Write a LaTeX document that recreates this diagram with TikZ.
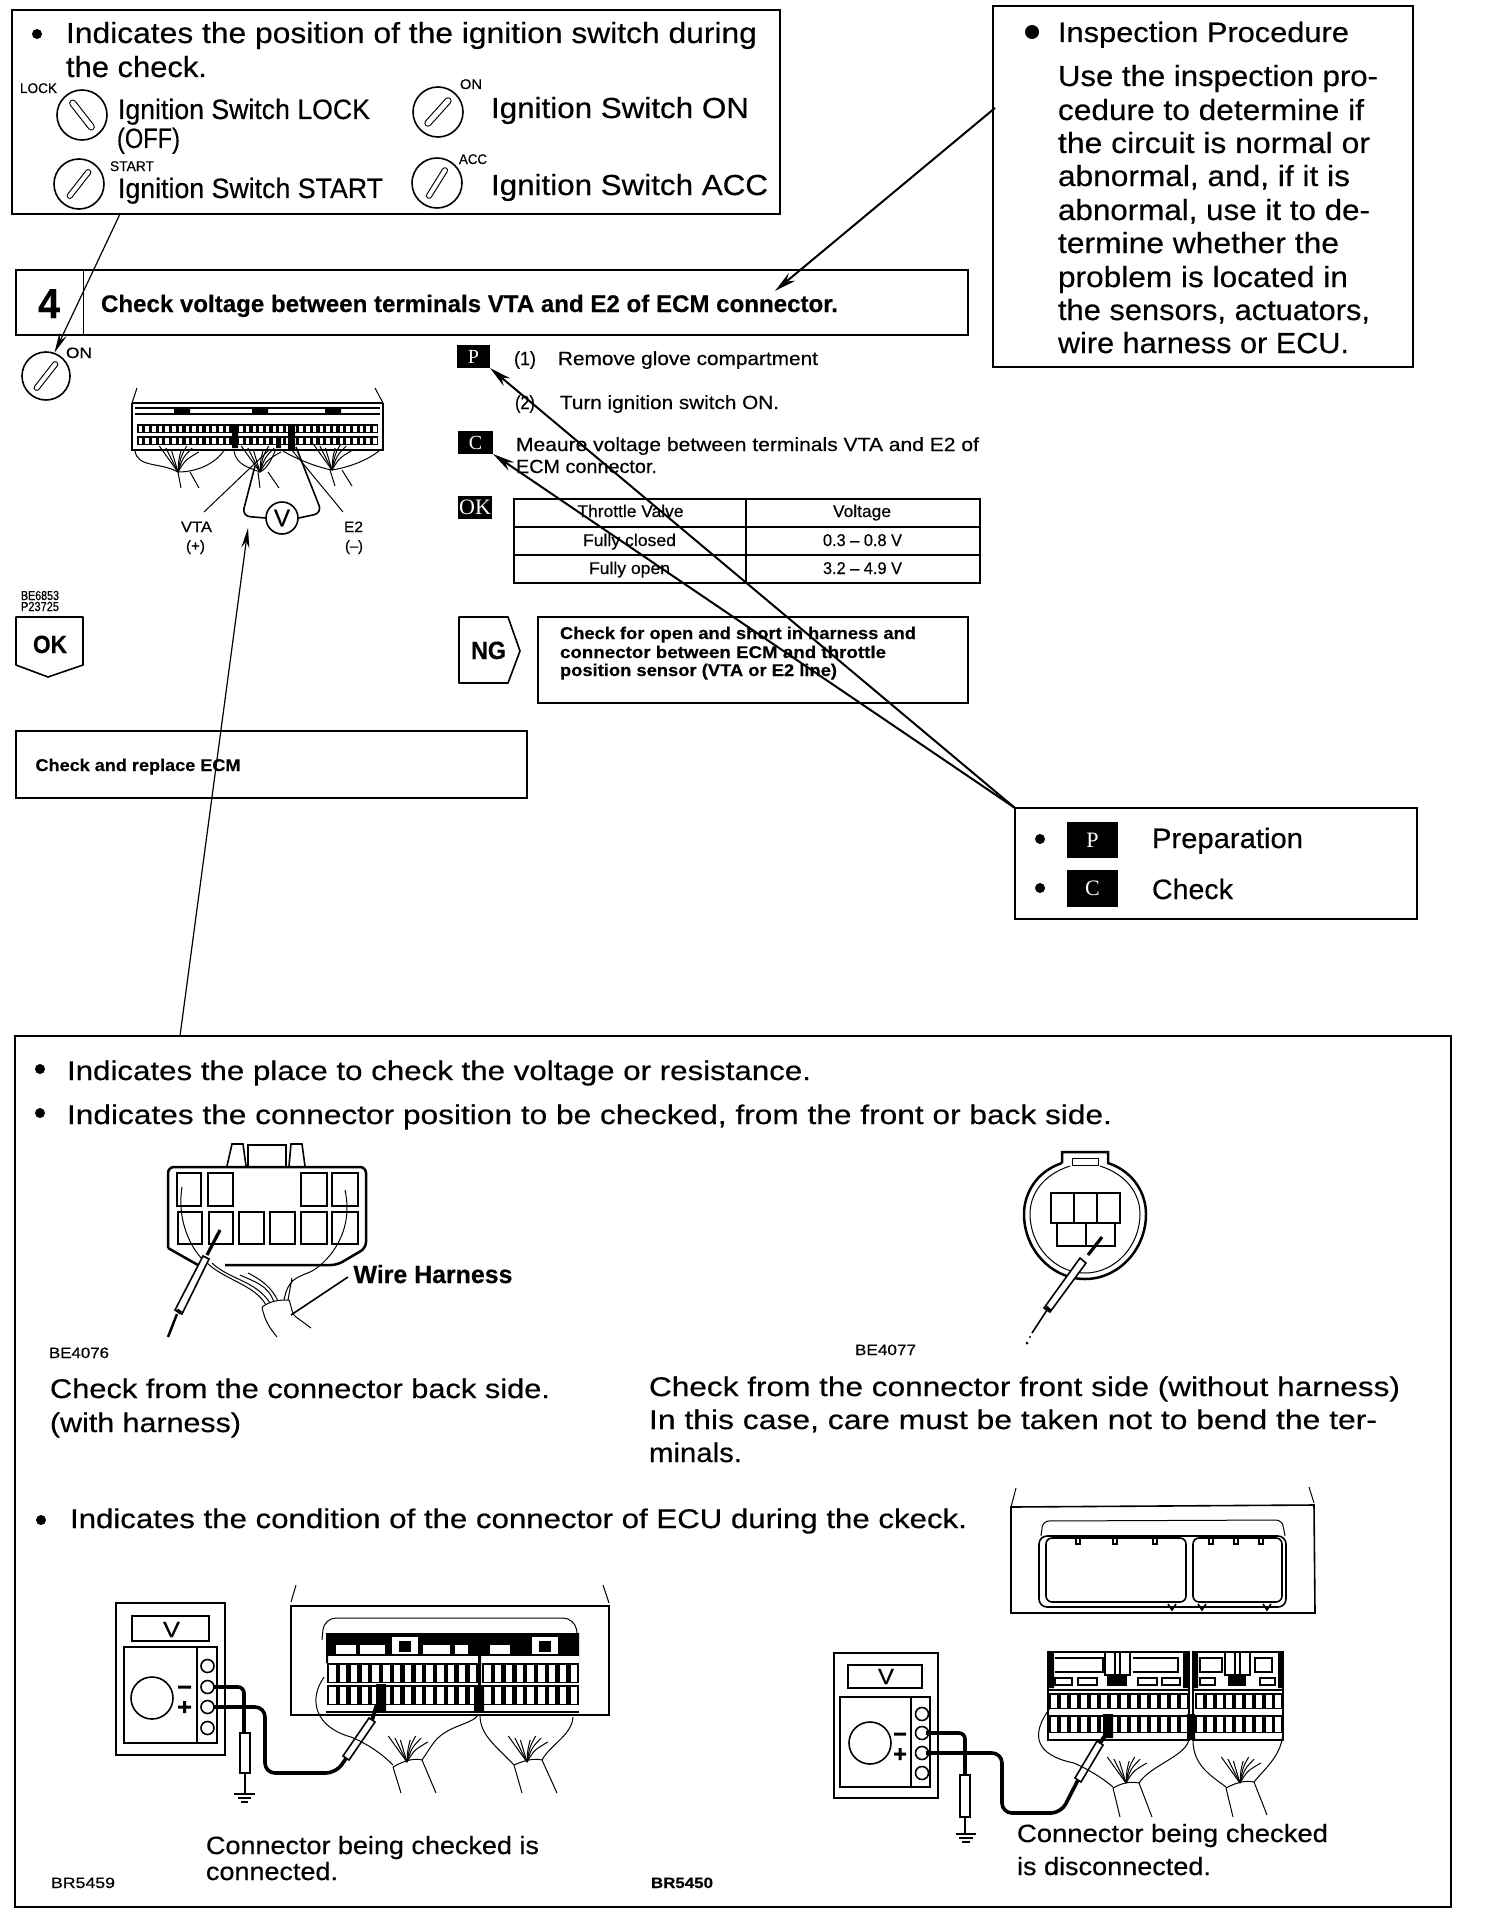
\documentclass[tikz,border=0pt]{standalone}
\usepackage{fontspec}
\usepackage{graphicx}
\usetikzlibrary{arrows.meta,calc}
\setmainfont{Liberation Sans}[FakeBold=0.4]
\newfontfamily\serfont{Liberation Serif}
\newcount\tc
% text with exact position and width (all lengths in reference pixels)
\newcommand\TT[6][]{\global\advance\tc by 1\relax
  \node[anchor=base west,inner sep=0pt,outer sep=0pt] (t\the\tc) at (#2,#3)
   {\fontsize{#5pt}{#5pt}\selectfont #1\resizebox{\dimexpr #4pt/2\relax}{\height}{#6}};}
\newcommand\Bx[7]{\node[inner sep=0pt,outer sep=0pt,anchor=north west,
   minimum width={(#4-#2)*0.5pt},minimum height={(#5-#3)*0.5pt},#6] (#1) at (#2,#3) {#7};}
\newcommand\Bul[3]{\fill (#1,#2) circle[radius=#3];}
\newcommand\Dial[5]{\node[circle,draw,lnB,minimum size={2*#3*0.5pt},inner sep=0pt] (#1) at (#2) {};
  \begin{scope}[shift={(#2)},rotate=#4]
   \draw[line width=#5*0.5pt+1.1pt,line cap=round] (-15,0) -- (15,0);
   \draw[white,line width=#5*0.5pt,line cap=round] (-15,0) -- (15,0);
  \end{scope}}
\newcommand\TermRow[6]{\fill (#1,#2) rectangle ++({#4*#5},{#3-#2});
  \foreach \i in {1,...,#4}{\fill[white] ({#1+(\i-1)*#5+(#5-#6)/2},{#2+1.5}) rectangle ++(#6,{#3-#2-3});}}
\newcommand\Fan[2]{\begin{scope}[shift={(#1,#2)},lnA]
  \foreach \a/\l in {-34/26,-22/24,-12/22}{\draw (0,0) .. controls ({\a*.25},{-\l*.45}) .. ({\a*.55},{-\l});}
  \foreach \a/\l in {4/22,14/26,24/24,36/20}{\draw (0,0) .. controls ({\a*.2},{-\l*.6}) .. ({\a*.55+1},{-\l});}
  \end{scope}}
\tikzset{x=0.5pt,y=-0.5pt,
 lnA/.style={line width=0.5pt},lnB/.style={line width=0.8pt},lnC/.style={line width=1.25pt},
 lnD/.style={line width=1.8pt},
 arrowline/.style={line width=0.6pt,-{Stealth[length=10pt,width=4pt]}},
 arrowheavy/.style={line width=1pt,-{Stealth[length=11pt,width=5pt]}},
 blk/.style={fill=black,text=white,font=\serfont}}
\begin{document}
\begin{tikzpicture}
\fill[white] (0,0) rectangle (1488,1916);
\useasboundingbox (0,0) rectangle (1488,1916);
%% ---- ignition switch panel
\Bx{swbox}{12}{10}{780}{214}{draw,lnC}{}
\Bul{37}{34}{5}
\TT{66}{43}{691}{14.5}{Indicates the position of the ignition switch during}
\TT{66}{77}{141}{14.5}{the check.}
\TT{20}{93}{37}{7}{LOCK}
\Dial{dLock}{82,115}{25}{-52}{5}
\TT{118}{119}{252}{14}{Ignition Switch LOCK}
\TT{117}{148}{63}{14}{(OFF)}
\Dial{dOn}{438,112}{25}{48}{5}
\TT{460}{89}{22}{7}{ON}
\TT{491}{118}{258}{14.5}{Ignition Switch ON}
\Dial{dStart}{79,184}{25}{52}{4}
\TT{110}{171}{44}{7}{START}
\TT{118}{198}{265}{14}{Ignition Switch START}
\Dial{dAcc}{437,183}{25}{58}{4}
\TT{459}{164}{28}{7}{ACC}
\TT{491}{195}{277}{14.5}{Ignition Switch ACC}
%% ---- inspection panel
\Bx{insp}{993}{6}{1413}{367}{draw,lnC}{}
\Bul{1032}{32}{7}
\TT{1058}{42}{291}{14}{Inspection Procedure}
\TT{1058}{86}{320}{14.5}{Use the inspection pro-}
\TT{1058}{120}{306}{14.5}{cedure to determine if}
\TT{1058}{153}{312}{14.5}{the circuit is normal or}
\TT{1058}{186}{292}{14.5}{abnormal, and, if it is}
\TT{1058}{220}{312}{14.5}{abnormal, use it to de-}
\TT{1058}{253}{281}{14.5}{termine whether the}
\TT{1058}{287}{290}{14.5}{problem is located in}
\TT{1058}{320}{312}{14.5}{the sensors, actuators,}
\TT{1058}{353}{291}{14.5}{wire harness or ECU.}
%% ---- step heading
\Bx{step}{16}{270}{968}{335}{draw,lnC}{}
\draw[lnA] (83,270) -- (83,335);
\TT[\bfseries]{38}{318}{22}{21}{4}
\TT[\bfseries]{101}{312}{737}{12}{Check voltage between terminals VTA and E2 of ECM connector.}
%% ---- small ON dial
\Dial{dOn2}{46,376}{24}{52}{4}
\TT{66}{358}{26}{7.5}{ON}
%% ---- ECM figure
\begin{scope}
 \draw[lnA] (132,403) -- (137,388) (383,403) -- (375,388);
 \draw[lnB] (132,403) -- (383,403) (132,403) -- (132,450) -- (383,450) -- (383,403);
 \draw[lnB] (135,414) -- (380,414) (135,408) -- (380,408);
 \fill (174,409) rectangle (190,414) (252,409) rectangle (268,414) (325,409) rectangle (341,414);
 \TermRow{137}{424}{433}{36}{6.7}{3.5}
 \TermRow{137}{436}{445}{36}{6.7}{3.5}
 \fill (232,424) rectangle (238,448) (276,437) rectangle (281,448) (288,424) rectangle (295,450);
 \draw[lnA] (135,451) .. controls (138,468) and (160,462) .. (178,472) .. controls (195,472) and (215,465) .. (225,449);
 \draw[lnA] (234,451) .. controls (236,465) and (250,468) .. (260,472) .. controls (268,468) and (272,458) .. (276,449);
 \draw[lnA] (283,451) .. controls (298,460) and (320,468) .. (332,470) .. controls (345,468) and (365,462) .. (379,451);
 \Fan{178}{472}\Fan{260}{472}\Fan{332}{470}
 \draw[lnA] (178,472) -- (181,488) (190,472) -- (199,488) (258,472) -- (260,488) (268,472) -- (279,488) (330,470) -- (335,486) (342,470) -- (352,486);
 \draw[lnA] (270,449) -- (204,512) (291,449) -- (343,512);
 \node[circle,draw,lnB,minimum size=16pt,inner sep=0pt,font=\fontsize{12pt}{12pt}\selectfont] (vm) at (282,518) {V};
 \draw[lnB,rounded corners=4pt] (vm.west) -- (242,516) -- (255,466);
 \draw[lnB,rounded corners=4pt] (vm.east) -- (322,513) -- (296,447);
\end{scope}
\TT{181}{532}{31}{7.5}{VTA}
\TT{186}{551}{19}{7.5}{(+)}
\TT{344}{532}{19}{7.5}{E2}
\TT{345}{551}{18}{7.5}{(--)}
\TT{21}{600}{38}{6.5}{BE6853}
\TT{21}{611}{38}{6.5}{P23725}
%% ---- OK / NG flags
\draw[lnB,line join=round] (16,617) -- (83,617) -- (83,665) -- (48,677) -- (16,665) -- cycle;
\TT[\bfseries]{33}{653}{34}{12.5}{OK}
\draw[lnB,line join=round] (459,617) -- (508,617) -- (520,651) -- (508,683) -- (459,683) -- cycle;
\TT[\bfseries]{471}{659}{35}{12.5}{NG}
\Bx{repl}{16}{731}{527}{798}{draw,lnB}{}
\TT[\bfseries]{35.5}{771}{205}{8.5}{Check and replace ECM}
\Bx{ngbox}{538}{617}{968}{703}{draw,lnB}{}
\TT[\bfseries]{560}{639}{356}{8.5}{Check for open and short in harness and}
\TT[\bfseries]{560}{658}{326}{8.5}{connector between ECM and throttle}
\TT[\bfseries]{560}{676}{277}{8.5}{position sensor (VTA or E2 line)}
%% ---- procedure
\Bx{pLab}{457}{345}{490}{368}{blk}{\fontsize{10pt}{10pt}\selectfont P}
\Bx{cLab}{458}{431}{493}{454}{blk}{\fontsize{10pt}{10pt}\selectfont C}
\Bx{okLab}{458}{496}{492}{519}{blk}{\fontsize{11pt}{11pt}\selectfont OK}
\TT{514}{365}{22}{9.5}{(1)}
\TT{558}{365}{260}{9.5}{Remove glove compartment}
\TT{515}{409}{20}{9.5}{(2)}
\TT{560}{409}{219}{9.5}{Turn ignition switch ON.}
\TT{516}{451}{463}{9.5}{Meaure voltage between terminals VTA and E2 of}
\TT{516}{473}{141}{9.5}{ECM connector.}
%% ---- table
\draw[lnB] (514,499) rectangle (980,583);
\draw[lnB] (514,527) -- (980,527) (514,555) -- (980,555) (746,499) -- (746,583);
\TT{577.5}{517}{106}{8.5}{Throttle Valve}
\TT{833}{517}{58}{8.5}{Voltage}
\TT{583}{546}{93}{8.5}{Fully closed}
\TT{823}{546}{79}{8.5}{0.3 -- 0.8 V}
\TT{589}{574}{81}{8.5}{Fully open}
\TT{823}{574}{79}{8.5}{3.2 -- 4.9 V}
%% ---- P / C legend
\Bx{prep}{1015}{808}{1417}{919}{draw,lnC}{}
\Bul{1040}{839}{5}
\Bul{1040}{888}{5}
\Bx{pLeg}{1067}{822}{1118}{858}{blk}{\fontsize{11pt}{11pt}\selectfont P}
\Bx{cLeg}{1067}{870}{1118}{907}{blk}{\fontsize{11pt}{11pt}\selectfont C}
\TT{1152}{848}{151}{14}{Preparation}
\TT{1152}{899}{81}{14}{Check}
%% ---- big panel
\Bx{big}{15}{1036}{1451}{1907}{draw,lnB}{}
\Bul{40}{1069}{5}
\TT{67}{1080}{744}{13.5}{Indicates the place to check the voltage or resistance.}
\Bul{40}{1113}{5}
\TT{67}{1124}{1045}{13.5}{Indicates the connector position to be checked, from the front or back side.}
%% back side connector
\draw[lnC,rounded corners=3pt] (168,1248) -- (168,1167) -- (366,1167) -- (366,1248) -- (337,1265) -- (225,1265);
\draw[lnC] (168,1248) -- (198,1265);
\draw[lnB] (227,1166) -- (232,1144) -- (243,1144) -- (246,1166) (248,1167) -- (248,1145) -- (286,1145) -- (286,1167) (289,1166) -- (291,1144) -- (302,1144) -- (305,1166);
\foreach \a/\b in {177/201,208/233,301/327,332/358}{\draw[lnB] (\a,1173) rectangle (\b,1206);}
\foreach \a/\b in {178/202,239/264,270/295,301/327,332/358}{\draw[lnB] (\a,1212) rectangle (\b,1244);}
\draw[lnC] (209,1212) rectangle (233,1244);
\draw[lnA] (182,1187) .. controls (176,1225) and (195,1255) .. (207,1263) .. controls (225,1280) and (255,1285) .. (266,1305);
\draw[lnA] (212,1263) .. controls (230,1280) and (255,1280) .. (270,1303);
\draw[lnA] (240,1275) .. controls (255,1282) and (268,1285) .. (274,1302) (248,1273) .. controls (262,1280) and (272,1288) .. (278,1301);
\draw[lnA] (345,1190) .. controls (355,1235) and (325,1265) .. (310,1272) .. controls (295,1278) and (288,1280) .. (284,1300) (292,1278) -- (288,1300);
\draw[lnA] (262,1307) .. controls (272,1300) and (280,1300) .. (289,1300) .. controls (292,1308) and (292,1315) .. (296,1317) -- (311,1328);
\draw[lnA] (262,1307) .. controls (265,1322) and (270,1328) .. (277,1337);
\draw[lnB] (348,1277) -- (291,1315);
\draw[line width=1.6pt] (220,1230) -- (207,1255);
\draw[lnB,fill=white] (203,1256) -- (209,1259) -- (182,1314) -- (175,1310) -- cycle;
\draw[lnD] (177,1310) -- (181,1313);
\draw[lnC] (177,1314) -- (168,1337);
\TT[\bfseries]{353.5}{1283}{159}{12.5}{Wire Harness}
\TT{49}{1358}{60}{7.5}{BE4076}
\TT{50}{1398}{500}{13.5}{Check from the connector back side.}
\TT{50}{1432}{191}{13.5}{(with harness)}
%% front side connector
\draw[lnC] (1062,1163) -- (1062,1152) -- (1108,1152) -- (1108,1163) .. controls (1135,1172) and (1146,1195) .. (1146,1214) .. controls (1146,1250) and (1118,1279) .. (1085,1279) .. controls (1052,1279) and (1024,1250) .. (1024,1214) .. controls (1024,1195) and (1035,1172) .. (1062,1163);
\draw[lnA] (1070,1166) .. controls (1042,1175) and (1030,1195) .. (1030,1214) .. controls (1030,1246) and (1055,1273) .. (1085,1273) .. controls (1115,1273) and (1140,1246) .. (1140,1214) .. controls (1140,1195) and (1128,1175) .. (1100,1166);
\draw[lnA] (1072,1165) rectangle (1098,1158);
\draw[lnB] (1051,1193) rectangle (1120,1223) (1074,1193) -- (1074,1223) (1097,1193) -- (1097,1223);
\draw[lnB] (1057,1223) rectangle (1115,1246) (1086,1223) -- (1086,1246);
\draw[line width=1.6pt] (1102,1237) -- (1088,1255);
\draw[lnB,fill=white] (1080,1258) -- (1086,1263) -- (1050,1312) -- (1044,1308) -- cycle;
\draw[lnD] (1046,1307) -- (1050,1311);
\draw[lnB] (1047,1310) -- (1032,1333);
\fill (1027,1343) circle[radius=1.5];
\fill (1030,1337) circle[radius=1.2];
\TT{855}{1355}{61}{7.5}{BE4077}
\TT{649}{1396}{751}{13.5}{Check from the connector front side (without harness)}
\TT{649}{1429}{728}{13.5}{In this case, care must be taken not to bend the ter-}
\TT{649}{1462}{93}{13.5}{minals.}
\Bul{41}{1520}{5}
\TT{70}{1528}{897}{13.5}{Indicates the condition of the connector of ECU during the ckeck.}
%% upper ECU outline
\draw[lnA] (1011,1507) -- (1016,1488) (1314,1503) -- (1309,1487);
\draw[lnB] (1011,1507) -- (1314,1505) -- (1315,1613) -- (1011,1613) -- cycle;
\draw[lnB,rounded corners=4pt] (1039,1607) -- (1039,1536) -- (1286,1536) -- (1286,1607) -- cycle;
\draw[lnA,rounded corners=3pt] (1041,1536) -- (1043,1521) -- (1282,1520) -- (1285,1536);
\draw[lnB,rounded corners=3pt] (1046,1602) -- (1046,1538) -- (1186,1538) -- (1186,1602) -- cycle;
\draw[lnB,rounded corners=3pt] (1193,1602) -- (1193,1538) -- (1282,1538) -- (1282,1602) -- cycle;
\foreach \x in {1078,1115,1155,1211,1236,1261}{\draw[lnB] (\x-2,1538) -- (\x-2,1544) -- (\x+2,1544) -- (\x+2,1538);}
\foreach \x in {1172,1202,1267}{\draw[lnB] (\x-4,1604) -- (\x,1610) -- (\x+4,1604);}
%% left meter
\draw[lnC] (116,1603) rectangle (225,1755);
\draw[lnB] (132,1616) rectangle (209,1641);
\TT{163}{1637}{17}{11}{V}
\draw[lnB] (124,1647) rectangle (217,1743) (197,1647) -- (197,1743);
\draw[lnB] (152,1698) circle[radius=21];
\foreach \y in {1666,1687,1707,1728}{\draw[lnB] (207.5,\y) circle[radius=6.5];}
\fill (178,1685.5) rectangle (191,1688.5) (183,1701) rectangle (186,1713) (178,1705.5) rectangle (191,1708.5);
\draw[lnD,rounded corners=3pt] (213,1687) -- (244,1687) -- (244,1733);
\draw[lnB,fill=white] (240,1733) rectangle (250,1773);
\draw[lnC] (245,1773) -- (245,1793);
\draw[lnB] (234,1794) -- (255,1794) (238,1798) -- (251,1798) (241,1802) -- (248,1802);
\draw[lnD,rounded corners=5pt] (213,1707) -- (265,1707) -- (265,1773) -- (336,1773) -- (347,1757);
\draw[lnB,fill=white] (343,1756) -- (349,1760) -- (375,1722) -- (369,1718) -- cycle;
\draw[line width=2pt] (372,1720) -- (381,1692);
%% left ECU
\draw[lnA] (291,1602) -- (296,1585) (609,1603) -- (603,1585);
\draw[lnC] (291,1606) -- (609,1606) -- (609,1715) -- (291,1715) -- cycle;
\draw[lnA,rounded corners=6pt] (322,1640) -- (324,1618) -- (575,1618) -- (578,1640);
\fill (326,1633) rectangle (478,1663) (481,1633) rectangle (579,1663);
\foreach \a/\b in {336/356,360/385,423/450,455/468,490/510,535/555}{\fill[white] (\a,1645) rectangle (\b,1654);}
\foreach \a in {392,532}{\fill[white] (\a,1637) rectangle +(26,17); \fill (\a+7,1641) rectangle +(12,11);}
\fill[white] (326,1656) rectangle (478,1663) (481,1656) rectangle (579,1663);
\fill (326,1656) rectangle (328,1663) (478,1633) rectangle (481,1712);
\TermRow{327}{1663}{1683}{14}{10.8}{6.5}
\TermRow{482}{1663}{1683}{9}{10.8}{6.5}
\TermRow{327}{1685}{1705}{14}{10.8}{6.5}
\TermRow{482}{1685}{1705}{9}{10.8}{6.5}
\fill (376,1684) rectangle (386,1712) (474,1685) rectangle (484,1712);
\draw[lnC] (326,1712) -- (579,1712);
\draw[lnA] (324,1677) .. controls (308,1700) and (315,1727) .. (351,1737) .. controls (370,1745) and (383,1755) .. (393,1765);
\draw[lnA] (478,1715) .. controls (472,1725) and (445,1725) .. (432,1745) -- (422,1760);
\draw[lnA] (480,1715) .. controls (480,1735) and (495,1745) .. (514,1765);
\draw[lnA] (573,1717) .. controls (572,1735) and (550,1745) .. (542,1760);
\Fan{407}{1762}\Fan{527}{1762}
\draw[lnA] (393,1767) .. controls (405,1760) and (415,1758) .. (422,1760) -- (436,1793) (393,1767) -- (401,1793);
\draw[lnA] (514,1765) .. controls (525,1760) and (535,1758) .. (542,1760) -- (557,1793) (514,1765) -- (522,1793);
\TT{206}{1854}{333}{12.5}{Connector being checked is}
\TT{206}{1880}{132}{12.5}{connected.}
\TT{51}{1888}{64}{7.5}{BR5459}
\TT[\bfseries]{651}{1888}{62}{7.5}{BR5450}
%% right meter
\draw[lnC] (834,1653) rectangle (938,1798);
\draw[lnB] (848,1665) rectangle (922,1688);
\TT{878}{1684}{16}{11}{V}
\draw[lnB] (840,1697) rectangle (930,1787) (911,1697) -- (911,1787);
\draw[lnB] (870,1743) circle[radius=21];
\foreach \y in {1714,1733,1753,1773}{\draw[lnB] (922,\y) circle[radius=6.5];}
\fill (894,1732.5) rectangle (906,1735.5) (898.5,1748) rectangle (901.5,1760) (894,1752.5) rectangle (906,1755.5);
\draw[lnD,rounded corners=3pt] (926,1733) -- (965,1733) -- (965,1775);
\draw[lnB,fill=white] (960,1775) rectangle (970,1817);
\draw[lnC] (965,1817) -- (965,1833);
\draw[lnB] (956,1834) -- (976,1834) (959,1838) -- (973,1838) (962,1842) -- (970,1842);
\draw[lnD,rounded corners=5pt] (926,1753) -- (1002,1753) -- (1002,1813) -- (1061,1813) -- (1078,1780);
\draw[lnB,fill=white] (1075,1778) -- (1081,1782) -- (1103,1745) -- (1097,1741) -- cycle;
\draw[line width=2pt] (1100,1743) -- (1111,1727);
%% right connectors
\draw[lnC] (1048,1652) rectangle (1189,1740);
\draw[lnC] (1193,1652) rectangle (1283,1740);
\fill (1048,1652) rectangle (1054,1688) (1183,1652) rectangle (1189,1688) (1193,1652) rectangle (1198,1688) (1278,1652) rectangle (1283,1688);
\draw[lnB] (1055,1658) -- (1103,1658) -- (1103,1672) -- (1055,1672) (1133,1658) -- (1178,1658) -- (1178,1672) -- (1133,1672);
\draw[lnB] (1105,1652) rectangle (1115,1675) (1120,1652) rectangle (1130,1675);
\fill (1107,1674) rectangle (1127,1686);
\draw[lnB] (1055,1678) rectangle (1072,1685) (1078,1678) rectangle (1097,1685) (1138,1678) rectangle (1157,1685) (1162,1678) rectangle (1180,1685);
\draw[lnB] (1200,1658) rectangle (1222,1672) (1255,1658) rectangle (1272,1672) (1225,1652) rectangle (1235,1675) (1240,1652) rectangle (1250,1675);
\fill (1228,1674) rectangle (1246,1686);
\draw[lnB] (1200,1678) rectangle (1215,1685) (1260,1678) rectangle (1275,1685);
\draw[lnB] (1048,1690) -- (1189,1690) (1193,1690) -- (1283,1690);
\TermRow{1049}{1693}{1709}{14}{10}{6}
\TermRow{1195}{1693}{1709}{9}{9.8}{6}
\TermRow{1049}{1715}{1733}{14}{10}{6}
\TermRow{1195}{1715}{1733}{9}{9.8}{6}
\fill (1103,1714) rectangle (1113,1738) (1187,1714) rectangle (1195,1740);
\draw[lnA] (1050,1708) .. controls (1030,1735) and (1035,1755) .. (1074,1763) .. controls (1090,1770) and (1105,1780) .. (1113,1787);
\draw[lnA] (1189,1737) .. controls (1190,1755) and (1150,1765) .. (1139,1783);
\draw[lnA] (1193,1740) .. controls (1193,1765) and (1210,1775) .. (1226,1787);
\draw[lnA] (1283,1730) .. controls (1283,1755) and (1265,1768) .. (1254,1782);
\Fan{1126}{1783}\Fan{1240}{1783}
\draw[lnA] (1113,1788) .. controls (1122,1783) and (1130,1781) .. (1139,1783) -- (1152,1817) (1113,1788) -- (1120,1817);
\draw[lnA] (1226,1788) .. controls (1235,1783) and (1245,1780) .. (1254,1782) -- (1267,1815) (1226,1788) -- (1233,1817);
\TT{1017}{1842}{311}{12.5}{Connector being checked}
\TT{1017}{1875}{194}{12.5}{is disconnected.}
%% ---- connectors (leader arrows)
\draw[arrowline] ($(swbox.south west)+(108,0)$) -- (dOn2.70);
\coordinate (stepTip) at ($(step.north east)+(-193,21)$);
\draw[arrowheavy] ($(insp.north west)+(2,102)$) -- (stepTip);
\coordinate (vmTip) at (248,528);
\draw[arrowline] ($(big.north west)+(165,0)$) -- (vmTip);
\draw[arrowheavy] (prep.north west) -- (pLab.south east);
\draw[arrowheavy] (prep.north west) -- (cLab.south east);
\end{tikzpicture}
\end{document}
